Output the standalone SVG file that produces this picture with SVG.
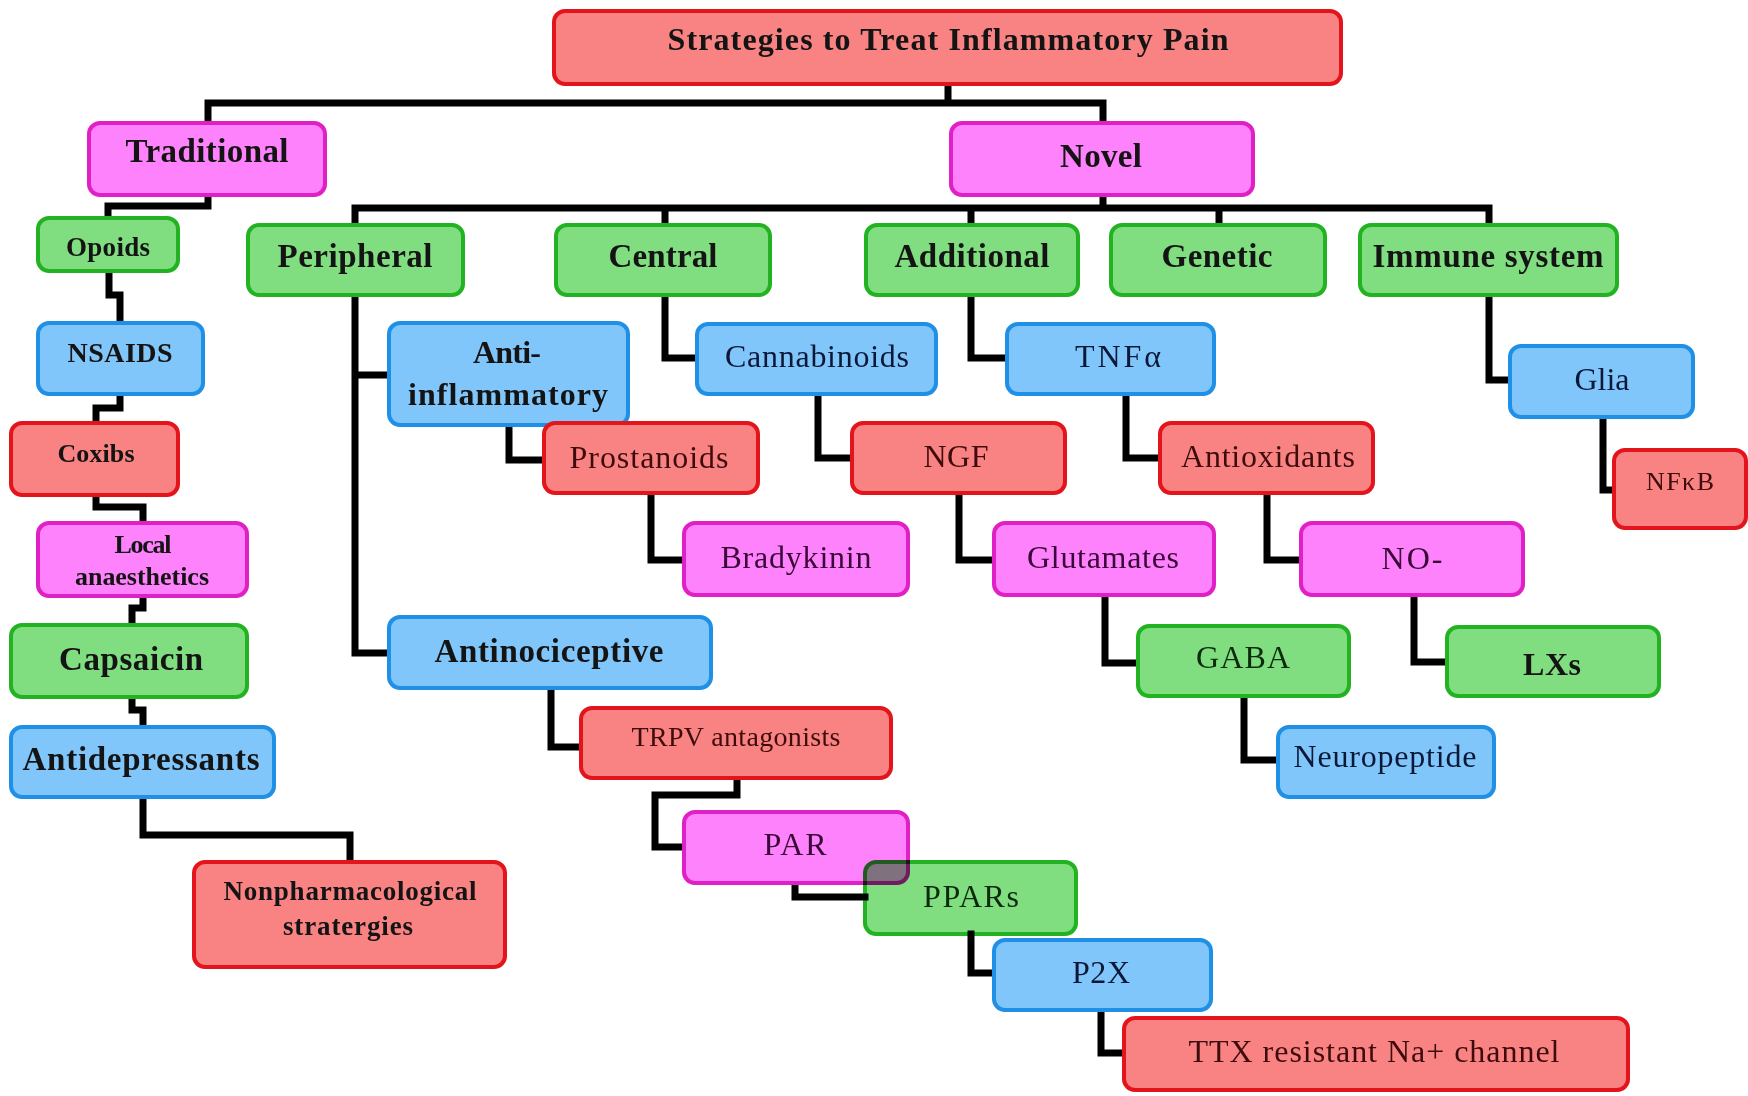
<svg xmlns="http://www.w3.org/2000/svg" width="1748" height="1096" viewBox="0 0 1748 1096">
<style>
  rect.n { stroke-width: 4; rx: 11; ry: 11; }
  .r { fill: #f98282; stroke: #e3141c; }
  .m { fill: #fe82fb; stroke: #e01fc4; }
  .g { fill: #80de80; stroke: #22b222; }
  .b { fill: #80c6fa; stroke: #2090e6; }
  text { font-family: "Liberation Serif", "DejaVu Serif", serif; text-anchor: middle; }
  .tb { font-weight: bold; fill: #141414; }
  .tn { font-weight: normal; }
  .cr { fill: #3e0c0c; }
  .cm { fill: #3a0838; }
  .cg { fill: #0c2a0c; }
  .cb { fill: #0c1838; }
  .conn path { fill: none; stroke: #000; stroke-width: 7; stroke-linejoin: miter; stroke-linecap: square; }
</style>
<rect width="1748" height="1096" fill="#ffffff"/>
<g id="connectors" class="conn">
  <path d="M208,123 V103 H1103 V123 M948,84 V103"/>
  <path d="M208,195 V206 H108 V218"/>
  <path d="M355,225 V208 H1489 V225 M1103,195 V208 M665,208 V225 M971,208 V225 M1219,208 V225"/>
  <path d="M109,271 V295 H120 V323"/>
  <path d="M120,394 V408 H96 V423"/>
  <path d="M96,495 V507 H143 V523"/>
  <path d="M143,596 V608 H132 V625"/>
  <path d="M132,697 V710 H143 V727"/>
  <path d="M143,797 V835 H350 V862"/>
  <path d="M355,295 V653 H389 M355,375 H389"/>
  <path d="M509,425 V460 H544"/>
  <path d="M651,493 V560 H684"/>
  <path d="M551,688 V747 H581"/>
  <path d="M737,778 V795 H655 V847 H684"/>
  <path d="M795,883 V897 H865"/>
  <path d="M971,934 V973 H994"/>
  <path d="M1101,1010 V1053 H1124"/>
  <path d="M665,295 V358 H697"/>
  <path d="M818,394 V458 H852"/>
  <path d="M959,493 V560 H994"/>
  <path d="M1105,595 V663 H1138"/>
  <path d="M1244,696 V760 H1278"/>
  <path d="M971,295 V358 H1007"/>
  <path d="M1126,394 V458 H1160"/>
  <path d="M1267,493 V560 H1301"/>
  <path d="M1414,595 V662 H1447"/>
  <path d="M1489,295 V380 H1510"/>
  <path d="M1603,417 V490 H1614"/>
</g>
<g id="title"><rect class="n r" x="554" y="11" width="787" height="73"/><text class="tb" x="948" y="50" font-size="32" textLength="561">Strategies to Treat Inflammatory Pain</text></g>
<g id="traditional"><rect class="n m" x="89" y="123" width="236" height="72"/><text class="tb" x="207" y="162" font-size="33" textLength="163">Traditional</text></g>
<g id="novel"><rect class="n m" x="951" y="123" width="302" height="72"/><text class="tb" x="1101" y="167" font-size="33" textLength="82">Novel</text></g>
<g id="opoids"><rect class="n g" x="38" y="218" width="140" height="53"/><text class="tb" x="108" y="256" font-size="27" textLength="84">Opoids</text></g>
<g id="peripheral"><rect class="n g" x="248" y="225" width="215" height="70"/><text class="tb" x="355" y="267" font-size="33" textLength="155">Peripheral</text></g>
<g id="central"><rect class="n g" x="556" y="225" width="214" height="70"/><text class="tb" x="663" y="267" font-size="33" textLength="109">Central</text></g>
<g id="additional"><rect class="n g" x="866" y="225" width="212" height="70"/><text class="tb" x="972" y="267" font-size="33" textLength="155">Additional</text></g>
<g id="genetic"><rect class="n g" x="1111" y="225" width="214" height="70"/><text class="tb" x="1217" y="267" font-size="33" textLength="111">Genetic</text></g>
<g id="immune"><rect class="n g" x="1360" y="225" width="257" height="70"/><text class="tb" x="1488" y="267" font-size="33" textLength="231">Immune system</text></g>
<g id="nsaids"><rect class="n b" x="38" y="323" width="165" height="71"/><text class="tb" x="120" y="362" font-size="28" textLength="105">NSAIDS</text></g>
<g id="antiinflammatory"><rect class="n b" x="389" y="323" width="239" height="102"/><text class="tb" x="507" y="363" font-size="32" textLength="68">Anti-</text><text class="tb" x="508" y="405" font-size="32" textLength="200">inflammatory</text></g>
<g id="cannabinoids"><rect class="n b" x="697" y="324" width="239" height="70"/><text class="tn cb" x="817" y="367" font-size="32" textLength="184">Cannabinoids</text></g>
<g id="tnfa"><rect class="n b" x="1007" y="324" width="207" height="70"/><text class="tn cb" x="1118" y="367" font-size="32" textLength="86">TNFα</text></g>
<g id="glia"><rect class="n b" x="1510" y="346" width="183" height="71"/><text class="tn cb" x="1602" y="390" font-size="32" textLength="55">Glia</text></g>
<g id="coxibs"><rect class="n r" x="11" y="423" width="167" height="72"/><text class="tb" x="96" y="462" font-size="26" textLength="77">Coxibs</text></g>
<g id="prostanoids"><rect class="n r" x="544" y="423" width="214" height="70"/><text class="tn cr" x="649" y="468" font-size="32" textLength="159">Prostanoids</text></g>
<g id="ngf"><rect class="n r" x="852" y="423" width="213" height="70"/><text class="tn cr" x="956" y="467" font-size="32" textLength="65">NGF</text></g>
<g id="antioxidants"><rect class="n r" x="1160" y="423" width="213" height="70"/><text class="tn cr" x="1268" y="467" font-size="32" textLength="174">Antioxidants</text></g>
<g id="nfkb"><rect class="n r" x="1614" y="450" width="132" height="78"/><text class="tn cr" x="1680" y="490" font-size="26" textLength="68">NFκB</text></g>
<g id="local"><rect class="n m" x="38" y="523" width="209" height="73"/><text class="tb" x="143" y="553" font-size="26" textLength="57">Local</text><text class="tb" x="142" y="585" font-size="26" textLength="134">anaesthetics</text></g>
<g id="bradykinin"><rect class="n m" x="684" y="523" width="224" height="72"/><text class="tn cm" x="796" y="568" font-size="32" textLength="151">Bradykinin</text></g>
<g id="glutamates"><rect class="n m" x="994" y="523" width="220" height="72"/><text class="tn cm" x="1103" y="568" font-size="32" textLength="152">Glutamates</text></g>
<g id="no"><rect class="n m" x="1301" y="523" width="222" height="72"/><text class="tn cm" x="1412" y="569" font-size="32" textLength="61">NO-</text></g>
<g id="capsaicin"><rect class="n g" x="11" y="625" width="236" height="72"/><text class="tb" x="131" y="670" font-size="33" textLength="144">Capsaicin</text></g>
<g id="antinociceptive"><rect class="n b" x="389" y="617" width="322" height="71"/><text class="tb" x="549" y="662" font-size="33" textLength="229">Antinociceptive</text></g>
<g id="gaba"><rect class="n g" x="1138" y="626" width="211" height="70"/><text class="tn cg" x="1243" y="668" font-size="32" textLength="94">GABA</text></g>
<g id="lxs"><rect class="n g" x="1447" y="627" width="212" height="69"/><text class="tb" x="1552" y="675" font-size="32" textLength="58">LXs</text></g>
<g id="antidepressants"><rect class="n b" x="11" y="727" width="263" height="70"/><text class="tb" x="141" y="770" font-size="33" textLength="237">Antidepressants</text></g>
<g id="trpv"><rect class="n r" x="581" y="708" width="310" height="70"/><text class="tn cr" x="736" y="746" font-size="28" textLength="209">TRPV antagonists</text></g>
<g id="neuropeptide"><rect class="n b" x="1278" y="727" width="216" height="70"/><text class="tn cb" x="1385" y="767" font-size="32" textLength="183">Neuropeptide</text></g>
<g id="par"><rect class="n m" x="684" y="812" width="224" height="71"/><text class="tn cm" x="795" y="855" font-size="32" textLength="63">PAR</text></g>
<g id="nonpharm"><rect class="n r" x="194" y="862" width="311" height="105"/><text class="tb" x="350" y="900" font-size="27" textLength="253">Nonpharmacological</text><text class="tb" x="348" y="935" font-size="27" textLength="130">stratergies</text></g>
<g id="ppars"><rect class="n g" x="865" y="862" width="211" height="72" style="mix-blend-mode:multiply"/><text class="tn cg" x="971" y="907" font-size="32" textLength="96">PPARs</text></g>
<g id="p2x"><rect class="n b" x="994" y="940" width="217" height="70"/><text class="tn cb" x="1101" y="983" font-size="32" textLength="58">P2X</text></g>
<g id="ttx"><rect class="n r" x="1124" y="1018" width="504" height="72"/><text class="tn cr" x="1374" y="1062" font-size="32" textLength="371">TTX resistant Na+ channel</text></g>
</svg>
